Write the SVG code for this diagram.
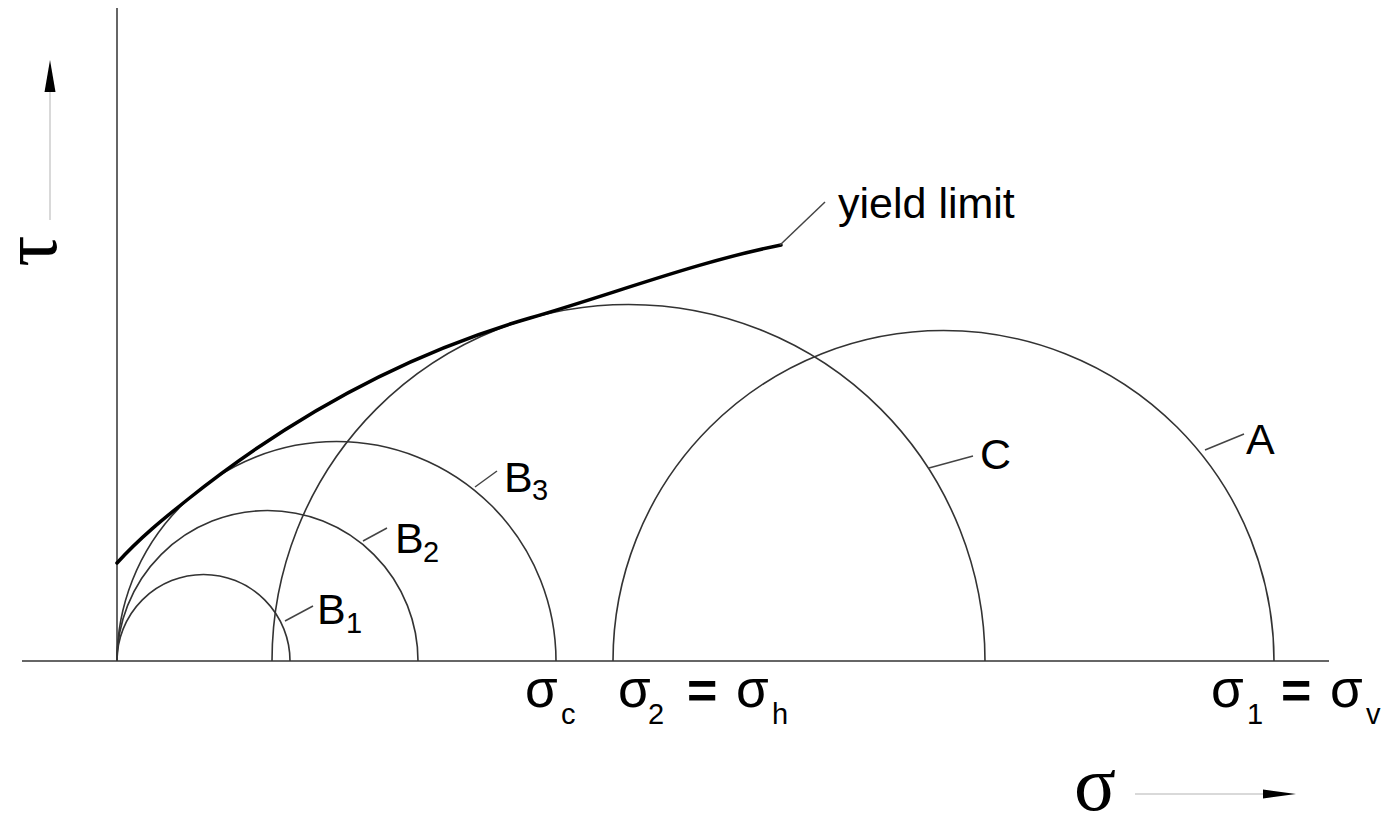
<svg xmlns="http://www.w3.org/2000/svg" width="1381" height="815" viewBox="0 0 1381 815">
<style>
.axis{stroke:#666;stroke-width:2;fill:none}
.arc{stroke:#333;stroke-width:1.6;fill:none}
.lead{stroke:#444;stroke-width:1.5;fill:none}
.yield{stroke:#000;stroke-width:3.5;fill:none;stroke-linecap:round}
.lbl{font-family:"Liberation Sans",Arial,sans-serif;font-size:43px;fill:#000}
.sub{font-family:"Liberation Sans",Arial,sans-serif;font-size:29px;fill:#000}
.sig{font-family:"Liberation Sans",Arial,sans-serif;font-size:53px;fill:#000}
.eq{font-family:"Liberation Sans",Arial,sans-serif;font-size:52px;font-weight:bold;fill:#000}
.big{font-family:"Liberation Serif","Times New Roman",serif;font-size:78px;fill:#000}
.thin{stroke:#ccc;stroke-width:1.5}
</style>
<rect width="1381" height="815" fill="#fff"/>
<g id="axes">
<line class="axis" x1="22" y1="661" x2="1329" y2="661"/>
<line class="axis" x1="117" y1="8" x2="117" y2="661"/>
<line class="thin" x1="50" y1="220" x2="50" y2="90"/>
<polygon points="50,60 44.5,92 55.5,92" fill="#000"/>
<text class="big" transform="translate(56,251) rotate(-90)" text-anchor="middle">τ</text>
<line class="thin" x1="1135" y1="794" x2="1265" y2="794"/>
<polygon points="1296,794 1263,789.5 1263,798.5" fill="#000"/>
<text class="big" x="1074" y="810">σ</text>
</g>
<g id="circle-B1"><path class="arc" d="M117 661 A86.5 86.5 0 0 1 290 661"/>
<text class="lbl" x="317" y="624">B</text><text class="sub" x="346" y="633">1</text></g>
<g id="circle-B2"><path class="arc" d="M117 661 A150.5 150.5 0 0 1 418 661"/>
<text class="lbl" x="395" y="553">B</text><text class="sub" x="423" y="562">2</text></g>
<g id="circle-B3"><path class="arc" d="M117 661 A219.5 219.5 0 0 1 556 661"/>
<text class="lbl" x="504" y="492">B</text><text class="sub" x="532" y="500">3</text></g>
<g id="circle-C"><path class="arc" d="M272 661 A356.5 356.5 0 0 1 985 661"/>
<text class="lbl" x="980" y="469">C</text></g>
<g id="circle-A"><path class="arc" d="M613 661 A330.5 330.5 0 0 1 1274 661"/>
<text class="lbl" x="1246" y="454">A</text></g>
<g id="yield-limit"><path class="yield" d="M117 563 C140.3 537.4 163.7 518.6 187 500 C301.3 408.5 415.7 351.1 530 318 C613.7 293.7 697.3 261.7 781 245"/>
<text class="lbl" x="838" y="218">yield limit</text></g>
<g id="connectors">
<line class="lead" x1="780" y1="245" x2="825" y2="202"/>
<line class="lead" x1="929" y1="468" x2="973" y2="456"/>
<line class="lead" x1="1205" y1="450" x2="1244" y2="434"/>
<line class="lead" x1="475" y1="487" x2="497" y2="471"/>
<line class="lead" x1="363" y1="541" x2="387" y2="528"/>
<line class="lead" x1="285" y1="621" x2="313" y2="606"/>
</g>
<g id="stress-labels">
<text class="sig" x="525" y="707">σ</text><text class="sub" x="561" y="724">c</text>
<text class="sig" x="618" y="707">σ</text><text class="sub" x="648" y="724">2</text>
<text class="eq" x="687" y="708">=</text>
<text class="sig" x="736" y="707">σ</text><text class="sub" x="772" y="724">h</text>
<text class="sig" x="1211" y="707">σ</text><text class="sub" x="1247" y="724">1</text>
<text class="eq" x="1281" y="708">=</text>
<text class="sig" x="1330" y="707">σ</text><text class="sub" x="1366" y="724">v</text>
</g>
</svg>
